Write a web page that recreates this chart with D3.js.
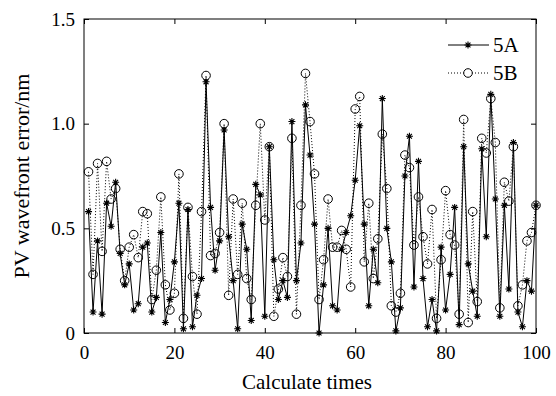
<!DOCTYPE html>
<html>
<head>
<meta charset="utf-8">
<script src="https://cdn.jsdelivr.net/npm/d3@7"></script>
<style>
  body { margin: 0; background: #fff; }
  text { font-family: "Liberation Serif", "Times New Roman", serif; fill: #000; }
</style>
</head>
<body>
<svg class="chart" width="556" height="396"></svg>
<script>
// values, x = 1..100
const series5A = [0.58, 0.10, 0.44, 0.09, 0.62, 0.51, 0.72, 0.38, 0.23, 0.33,
    0.11, 0.14, 0.41, 0.43, 0.10, 0.17, 0.48, 0.05, 0.16, 0.34,
    0.62, 0.02, 0.59, 0.03, 0.18, 0.26, 1.20, 0.60, 0.30, 0.44,
    0.97, 0.46, 0.25, 0.02, 0.52, 0.40, 0.06, 0.71, 0.66, 0.08,
    0.89, 0.35, 0.16, 0.25, 0.17, 1.01, 0.25, 0.43, 1.09, 0.85,
    0.52, 0.00, 0.23, 0.50, 0.13, 0.11, 0.40, 0.48, 0.56, 0.73,
    0.99, 0.52, 0.13, 0.40, 0.24, 1.12, 0.50, 0.34, 0.01, 0.12,
    0.75, 0.94, 0.22, 0.82, 0.26, 0.03, 0.16, 0.01, 0.41, 0.11,
    0.28, 0.60, 0.04, 0.89, 0.33, 0.20, 0.08, 0.88, 0.46, 1.14,
    0.64, 0.08, 0.61, 0.21, 0.91, 0.10, 0.03, 0.25, 0.20, 0.61];
const series5B = [0.77, 0.28, 0.81, 0.39, 0.82, 0.64, 0.69, 0.40, 0.25, 0.41,
    0.47, 0.36, 0.58, 0.57, 0.16, 0.30, 0.65, 0.23, 0.11, 0.19,
    0.76, 0.07, 0.60, 0.27, 0.09, 0.58, 1.23, 0.37, 0.38, 0.48,
    1.00, 0.18, 0.64, 0.28, 0.62, 0.26, 0.16, 0.61, 1.00, 0.54,
    0.89, 0.08, 0.21, 0.36, 0.27, 0.93, 0.09, 0.61, 1.24, 1.01,
    0.76, 0.16, 0.35, 0.64, 0.41, 0.41, 0.49, 0.40, 0.22, 1.07,
    1.13, 0.34, 0.62, 0.26, 0.45, 0.95, 0.69, 0.13, 0.10, 0.19,
    0.85, 0.79, 0.42, 0.65, 0.46, 0.33, 0.59, 0.07, 0.35, 0.68,
    0.47, 0.42, 0.09, 1.02, 0.05, 0.58, 0.15, 0.93, 0.86, 1.12,
    0.91, 0.12, 0.72, 0.63, 0.89, 0.13, 0.23, 0.44, 0.48, 0.61];
const xTicks = [0, 20, 40, 60, 80, 100];
const yTicks = [0, 0.5, 1.0, 1.5];
const yTickLabels = ["0", "0.5", "1.0", "1.5"];

const svg = d3.select("svg.chart");
const margin = {top: 19, right: 20, bottom: 63, left: 84};
const width = svg.attr("width") - margin.left - margin.right;
const height = svg.attr("height") - margin.top - margin.bottom;
const g = svg.append("g").attr("transform", "translate(" + margin.left + "," + margin.top + ")");

const x = d3.scaleLinear().domain([0, 100]).range([0, width]);
const y = d3.scaleLinear().domain([0, 1.5]).range([height, 0]);
const tickLen = 5;

// frame
g.append("rect")
    .attr("width", width).attr("height", height)
    .attr("fill", "none").attr("stroke", "#000").attr("stroke-width", 1);

function styleAxis(sel) {
    sel.select(".domain").remove();
    sel.selectAll("line").attr("stroke", "#000");
    sel.selectAll("text").style("font-size", "19px");
}

g.append("g")
    .attr("transform", "translate(0," + height + ")")
    .call(d3.axisBottom(x).tickValues(xTicks).tickSize(-tickLen).tickPadding(12.5))
    .call(styleAxis);
g.append("g")
    .call(d3.axisTop(x).tickValues(xTicks).tickSize(-tickLen).tickFormat(""))
    .call(styleAxis);
g.append("g")
    .call(d3.axisLeft(y).tickValues(yTicks).tickSize(-tickLen).tickPadding(9)
        .tickFormat(function(d, i) { return yTickLabels[i]; }))
    .call(styleAxis);
g.append("g")
    .attr("transform", "translate(" + width + ",0)")
    .call(d3.axisRight(y).tickValues(yTicks).tickSize(-tickLen).tickFormat(""))
    .call(styleAxis);

// axis titles
svg.append("text")
    .attr("x", margin.left + width / 2 - 3).attr("y", 389)
    .attr("text-anchor", "middle").style("font-size", "21px")
    .text("Calculate times");
svg.append("text")
    .attr("transform", "translate(29," + (margin.top + height / 2) + ") rotate(-90)")
    .attr("text-anchor", "middle").style("font-size", "22px")
    .text("PV wavefront error/nm");

const line = d3.line()
    .x(function(d, i) { return x(i + 1); })
    .y(function(d) { return y(d); });

function asterisk(sel, r) {
    const p = "M" + (-r) + ",0H" + r + "M0," + (-r) + "V" + r +
        "M" + (-r * 0.7) + "," + (-r * 0.7) + "L" + (r * 0.7) + "," + (r * 0.7) +
        "M" + (-r * 0.7) + "," + (r * 0.7) + "L" + (r * 0.7) + "," + (-r * 0.7);
    sel.append("path").attr("d", p).attr("stroke", "#000").attr("stroke-width", 1.1).attr("fill", "none");
}

// 5B dotted with circles
g.append("path")
    .datum(series5B)
    .attr("d", line)
    .attr("fill", "none").attr("stroke", "#000").attr("stroke-width", 1)
    .attr("stroke-dasharray", "1,2");
g.selectAll(".mB")
    .data(series5B)
    .enter().append("circle")
    .attr("class", "mB")
    .attr("cx", function(d, i) { return x(i + 1); })
    .attr("cy", function(d) { return y(d); })
    .attr("r", 4.3)
    .attr("fill", "none").attr("stroke", "#000").attr("stroke-width", 1);

// 5A solid with asterisks
g.append("path")
    .datum(series5A)
    .attr("d", line)
    .attr("fill", "none").attr("stroke", "#000").attr("stroke-width", 1);
g.selectAll(".mA")
    .data(series5A)
    .enter().append("g")
    .attr("class", "mA")
    .attr("transform", function(d, i) { return "translate(" + x(i + 1) + "," + y(d) + ")"; })
    .each(function() { asterisk(d3.select(this), 3.5); });

// legend
const legend = svg.append("g");
const legItems = [
    {name: "5A", y: 45, dash: null},
    {name: "5B", y: 73, dash: "1,2"}
];
legItems.forEach(function(it) {
    legend.append("line")
        .attr("x1", 448).attr("x2", 489).attr("y1", it.y).attr("y2", it.y)
        .attr("stroke", "#000").attr("stroke-width", 1)
        .attr("stroke-dasharray", it.dash);
    if (it.dash) {
        legend.append("circle").attr("cx", 468).attr("cy", it.y).attr("r", 4.3)
            .attr("fill", "#fff").attr("stroke", "#000");
    } else {
        asterisk(legend.append("g").attr("transform", "translate(468," + it.y + ")"), 3.5);
    }
    legend.append("text")
        .attr("x", 493).attr("y", it.y + 7)
        .style("font-size", "21px")
        .text(it.name);
});
</script>
</body>
</html>
